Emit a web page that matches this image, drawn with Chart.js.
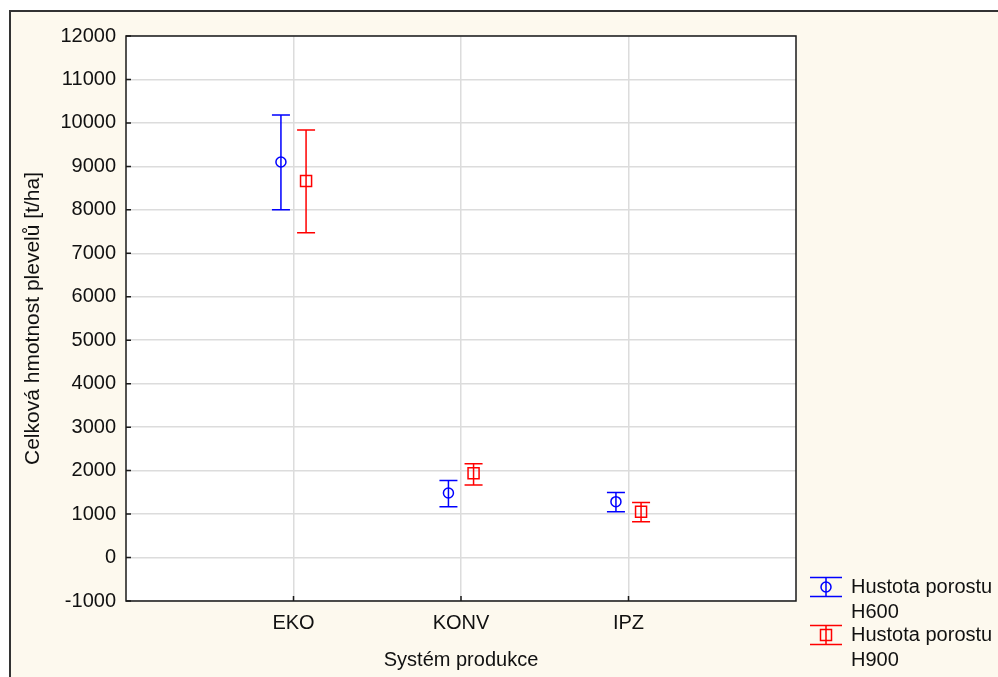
<!DOCTYPE html>
<html>
<head>
<meta charset="utf-8">
<script src="https://cdn.jsdelivr.net/npm/chart.js@4/dist/chart.umd.min.js"></script>
<style>
html, body { margin: 0; padding: 0; background: #fff; }
#frame { position: absolute; left: 9px; top: 10px; width: 989px; height: 667px; background: #fdf9ee; border-left: 2px solid #333; border-top: 2px solid #333; box-sizing: border-box; }
#myChart { position: absolute; left: 0; top: 0; }
</style>
</head>
<body>
<div id="frame"></div>
<canvas id="myChart" width="998" height="677"></canvas>
<script>
'use strict';
// DATA
var categories = ['EKO', 'KONV', 'IPZ'];
var seriesNames = ['Hustota porostu H600', 'Hustota porostu H900'];
var h600Mean = [9100, 1485, 1285];
var h600Low = [8000, 1170, 1055];
var h600High = [10180, 1770, 1495];
var h900Mean = [8665, 1940, 1055];
var h900Low = [7475, 1670, 825];
var h900High = [9840, 2160, 1265];
var yMin = -1000, yMax = 12000, yStep = 1000;

var FONT = 'Arial, "Liberation Sans", sans-serif';
var dodge = 0.075;

function points(values, shift) {
  return values.map(function(v, i) { return { x: i + 1 + shift, y: v }; });
}

// ERROR BARS
var errorBars = {
  id: 'errorBars',
  beforeDatasetsDraw: function(chart) {
    var ctx = chart.ctx;
    var xs = chart.scales.x, ys = chart.scales.y;
    chart.data.datasets.forEach(function(ds) {
      ctx.save();
      ctx.strokeStyle = ds.borderColor;
      ctx.lineWidth = 1.5;
      ds.data.forEach(function(p, i) {
        var x = xs.getPixelForValue(p.x);
        var top = ys.getPixelForValue(ds.errHigh[i]);
        var bot = ys.getPixelForValue(ds.errLow[i]);
        ctx.beginPath();
        ctx.moveTo(x, top); ctx.lineTo(x, bot);
        ctx.moveTo(x - 9, top); ctx.lineTo(x + 9, top);
        ctx.moveTo(x - 9, bot); ctx.lineTo(x + 9, bot);
        ctx.stroke();
      });
      ctx.restore();
    });
  }
};

// PLOT BACKGROUND, BORDER, INWARD TICKS, LEGEND
var frame = {
  id: 'frame',
  beforeDraw: function(chart) {
    var a = chart.chartArea, ctx = chart.ctx;
    ctx.save();
    ctx.fillStyle = '#fff';
    ctx.fillRect(a.left, a.top, a.right - a.left, a.bottom - a.top);
    ctx.restore();
  },
  afterDraw: function(chart) {
    var a = chart.chartArea, ctx = chart.ctx;
    var xs = chart.scales.x, ys = chart.scales.y;
    ctx.save();
    ctx.strokeStyle = '#1a1a1a';
    ctx.lineWidth = 1.5;
    ctx.strokeRect(a.left, a.top, a.right - a.left, a.bottom - a.top);
    ctx.beginPath();
    ys.ticks.forEach(function(t) {
      var y = ys.getPixelForValue(t.value);
      ctx.moveTo(a.left, y); ctx.lineTo(a.left + 5, y);
    });
    categories.forEach(function(c, i) {
      var x = xs.getPixelForValue(i + 1);
      ctx.moveTo(x, a.bottom); ctx.lineTo(x, a.bottom - 5);
    });
    ctx.stroke();

    // legend
    var items = [
      { color: '#0000ff', shape: 'circle', y: 587, lines: ['Hustota porostu', 'H600'] },
      { color: '#ff0000', shape: 'rect', y: 635, lines: ['Hustota porostu', 'H900'] }
    ];
    items.forEach(function(it) {
      ctx.strokeStyle = it.color;
      ctx.lineWidth = 1.5;
      ctx.beginPath();
      ctx.moveTo(810, it.y - 9.5); ctx.lineTo(842, it.y - 9.5);
      ctx.moveTo(810, it.y + 9.5); ctx.lineTo(842, it.y + 9.5);
      ctx.moveTo(826, it.y - 9.5); ctx.lineTo(826, it.y + 9.5);
      ctx.stroke();
      ctx.beginPath();
      if (it.shape === 'circle') ctx.arc(826, it.y, 5, 0, Math.PI * 2);
      else ctx.rect(820.5, it.y - 5.5, 11, 11);
      ctx.stroke();
      ctx.fillStyle = '#111';
      ctx.font = '20px ' + FONT;
      ctx.textBaseline = 'middle';
      ctx.textAlign = 'left';
      ctx.fillText(it.lines[0], 851, it.y);
      ctx.fillText(it.lines[1], 851, it.y + 25);
    });
    ctx.restore();
  }
};

var ctx = document.getElementById('myChart').getContext('2d');

var chart = new Chart(ctx, {
  type: 'scatter',
  data: {
    datasets: [{
      label: seriesNames[0],
      data: points(h600Mean, -dodge),
      errLow: h600Low,
      errHigh: h600High,
      borderColor: '#0000ff',
      backgroundColor: 'rgba(0,0,0,0)',
      pointStyle: 'circle',
      pointRadius: 5,
      pointBorderWidth: 1.5
    },
    {
      label: seriesNames[1],
      data: points(h900Mean, dodge),
      errLow: h900Low,
      errHigh: h900High,
      borderColor: '#ff0000',
      backgroundColor: 'rgba(0,0,0,0)',
      pointStyle: 'rect',
      pointRadius: 7.8,
      pointBorderWidth: 1.5
    }]
  },
  options: {
    responsive: false,
    animation: false,
    layout: { padding: { top: 36, right: 202, left: 0, bottom: 0 } },
    plugins: { legend: { display: false }, tooltip: { enabled: false } },
    scales: {
      x: {
        type: 'linear',
        min: 0,
        max: categories.length + 1,
        afterFit: function(s) { s.height = 76; },
        afterBuildTicks: function(s) {
          s.ticks = categories.map(function(c, i) { return { value: i + 1 }; });
        },
        ticks: {
          callback: function(v) { return categories[v - 1] || ''; },
          color: '#111',
          font: { size: 20, family: FONT },
          padding: 10,
          maxRotation: 0,
          autoSkip: false
        },
        grid: { color: '#dcdcdc', lineWidth: 1.5, drawTicks: false },
        border: { display: false },
        title: { display: true, text: 'Systém produkce', color: '#111', font: { size: 20, family: FONT }, padding: { top: 0, bottom: 5 } }
      },
      y: {
        min: yMin,
        max: yMax,
        afterFit: function(s) { s.width = 126; },
        ticks: {
          stepSize: yStep,
          callback: function(v) { return String(v); },
          color: '#111',
          font: { size: 20, family: FONT },
          padding: 10,
          autoSkip: false
        },
        grid: { color: '#dcdcdc', lineWidth: 1.5, drawTicks: false },
        border: { display: false },
        title: { display: true, text: 'Celková hmotnost plevelů [t/ha]', color: '#111', font: { size: 21, family: FONT }, padding: { top: 21, bottom: 0 } }
      }
    }
  },
  plugins: [errorBars, frame]
});
</script>
</body>
</html>
